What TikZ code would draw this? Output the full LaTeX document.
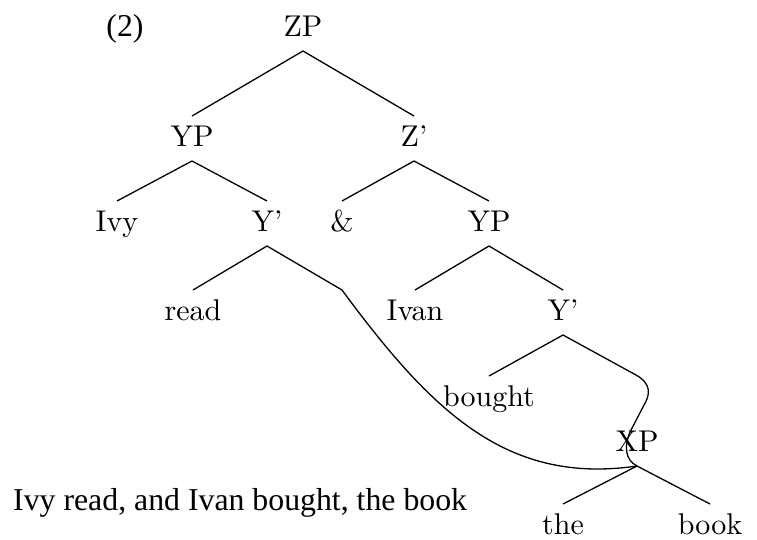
\documentclass[tikz,border=0pt]{standalone}
\usepackage{fontspec}
\newfontfamily\tnr{Liberation Serif}
\newfontfamily\lmten{lmroman10-regular}[Extension=.otf, Ligatures=TeX]
\begin{document}
\begin{tikzpicture}[x=1pt,y=-1pt,
  lab/.style={inner sep=0pt, outer sep=0pt, text height=30pt, text depth=15pt, anchor=base, font=\lmten\fontsize{30}{35}\selectfont},
  txt/.style={inner sep=0pt, font=\tnr\fontsize{31.8}{36}\selectfont},
  br/.style={line width=1.3pt, line join=round}]
\useasboundingbox (0,0) rectangle (757,539);
% labels
\node[txt, anchor=base] (num) at (125,36) {(2)};
\node[txt, anchor=base west] (sent) at (13,510) {Ivy read, and Ivan bought, the book};
\node[lab] (zp) at (303,36) {ZP};
\node[lab] (yp1) at (192,146) {YP};
\node[lab] (zbar) at (414,146) {Z’};
\node[lab] (ivy) at (117,231) {Ivy};
\node[lab] (ybar1) at (267,231) {Y’};
\node[lab] (amp) at (342,231) {\&};
\node[lab] (yp2) at (489,231) {YP};
\node[lab] (read) at (193,320) {read};
\node[lab] (ivan) at (415,320) {Ivan};
\node[lab] (ybar2) at (563,320) {Y’};
\node[lab] (bought) at (489,406) {bought};
\node[lab] (xp) at (637,451) {XP};
\node[lab, text depth=1pt] (the) at (563,534) {the};
\node[lab, text depth=1pt] (book) at (710,534) {book};
\coordinate (c1) at (342,290);
\coordinate (c2) at (636,375);
% branches
\draw[br] (yp1.north) -- (zp.south) -- (zbar.north);
\draw[br] (ivy.north) -- (yp1.south) -- (ybar1.north);
\draw[br] (amp.north) -- (zbar.south) -- (yp2.north);
\draw[br] (read.north) -- (ybar1.south) -- (c1) .. controls (432,412) and (507,485) .. (xp.south);
\draw[br] (ivan.north) -- (yp2.south) -- (ybar2.north);
\draw[br] (bought.north) -- (ybar2.south) -- (c2) .. controls (652,384) and (650,395) .. (644,405) -- (630,432) .. controls (624,446) and (625,460) .. (xp.south);
\draw[br] (the.north) -- (xp.south) -- (book.north);
\end{tikzpicture}
\end{document}
